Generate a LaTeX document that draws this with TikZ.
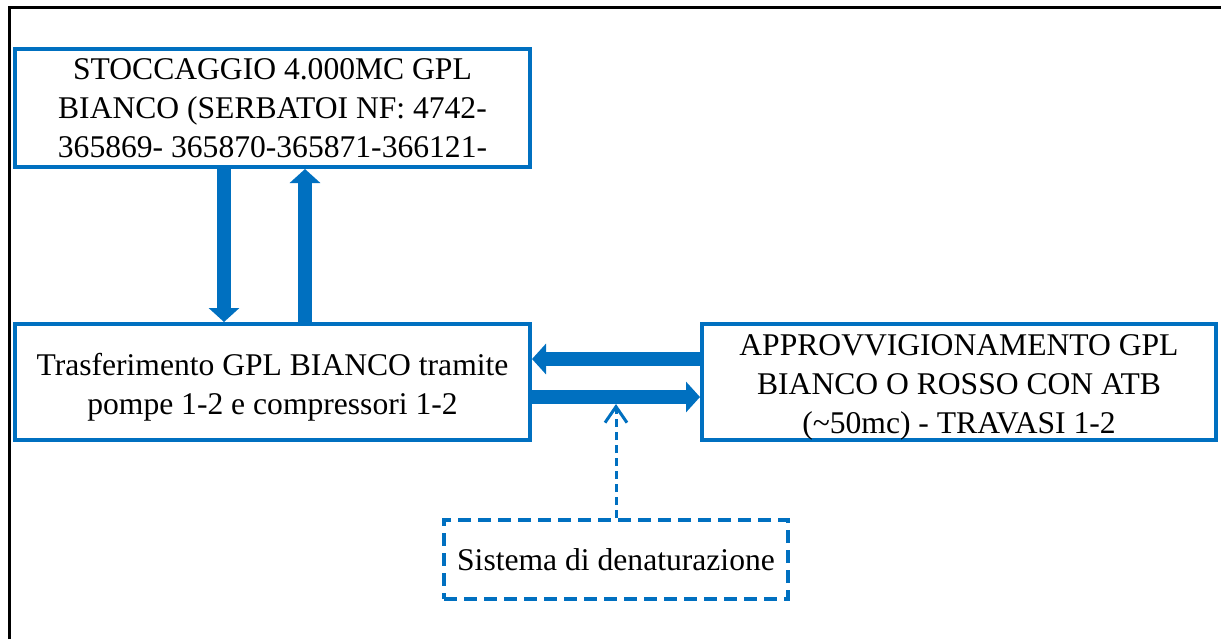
\documentclass[tikz,border=0pt]{standalone}
\usepackage{fontspec}
\setmainfont{Liberation Serif}
\usetikzlibrary{arrows.meta, calc}
\definecolor{gplblue}{HTML}{0070C0}

\begin{document}
\begin{tikzpicture}[x=0.5pt, y=-0.5pt]
      \tikzset{block/.style = {shape=rectangle, draw=gplblue, line width=2pt, align=center, inner sep=0pt, font=\fontsize{15.8}{19.5}\selectfont}}
      \tikzset{flow/.style = {gplblue, line width=7pt, -{Triangle[length=7pt, width=15pt]}}}
      \tikzset{feed/.style = {gplblue, line width=1.5pt, dash pattern=on 4pt off 2.5pt, -{Straight Barb[length=8pt, width=11pt]}}}
      \useasboundingbox (0,0) rectangle (1221,639);
      \draw[line width=1.5pt] (9.5,639) |- (1221,7);

      \node[block, minimum width=257.5pt, minimum height=59pt] (stock) at (272.5,108)
        {STOCCAGGIO 4.000MC GPL\\BIANCO (SERBATOI NF: 4742-\\365869- 365870-365871-366121-};
      \node[block, text height=35.5pt, minimum width=257.5pt, minimum height=58pt] (trasf) at (272.5,382)
        {Trasferimento GPL BIANCO tramite\\pompe 1-2 e compressori 1-2};
      \node[block, text height=54.5pt, minimum width=257pt, minimum height=58pt] (approv) at (959,382)
        {APPROVVIGIONAMENTO GPL\\BIANCO O ROSSO CON ATB\\(\textasciitilde 50mc) - TRAVASI 1-2};
      \node[block, dash pattern=on 6.5pt off 3.5pt, minimum width=172pt, minimum height=39.5pt] (denat) at (616,559.5)
        {Sistema di denaturazione};

      \coordinate (mix) at (616,404);

      \draw[flow] ([xshift=-24.25pt]stock.south) to ([xshift=-24.25pt]trasf.north);
      \draw[flow] ([xshift=16.25pt]trasf.north) to ([xshift=16.25pt]stock.south);

      \draw[flow] ([yshift=11.5pt]approv.west) to ([yshift=11.5pt]trasf.east);
      \draw[flow] ([yshift=-7.5pt]trasf.east) to ([yshift=-7.5pt]approv.west);

      \draw[feed] (denat.north) to (mix);
    \end{tikzpicture}
\end{document}
